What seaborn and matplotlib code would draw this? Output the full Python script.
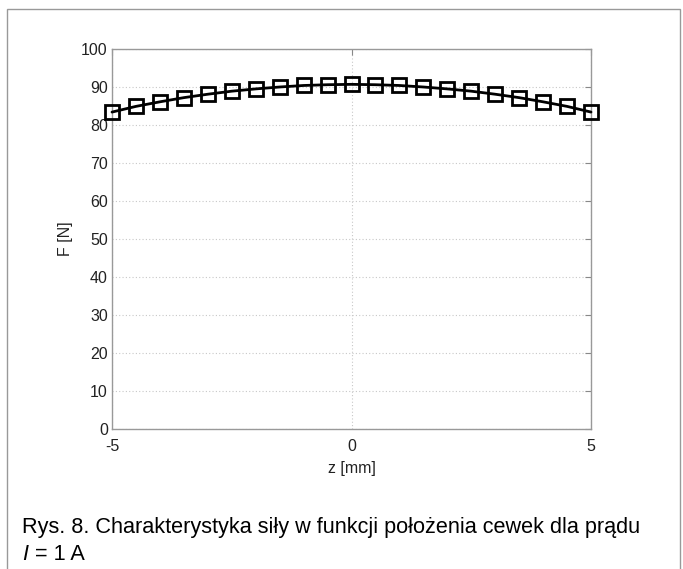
import matplotlib
matplotlib.use("Agg")
import matplotlib.pyplot as plt
import seaborn as sns
import pandas as pd
from matplotlib.patches import Rectangle

z_mm = [-5.0, -4.5, -4.0, -3.5, -3.0, -2.5, -2.0, -1.5, -1.0, -0.5, 0.0,
        0.5, 1.0, 1.5, 2.0, 2.5, 3.0, 3.5, 4.0, 4.5, 5.0]
force_N = [83.4, 84.9, 86.1, 87.2, 88.1, 88.9, 89.5, 90.0, 90.4, 90.6, 90.7,
           90.6, 90.4, 90.0, 89.5, 88.9, 88.1, 87.2, 86.1, 84.9, 83.4]
x_ticks = [-5, 0, 5]
y_ticks = [0, 10, 20, 30, 40, 50, 60, 70, 80, 90, 100]
caption_line1 = "Rys. 8. Charakterystyka siły w funkcji położenia cewek dla prądu"
caption_line2_var = "I"
caption_line2_rest = " = 1 A"

sns.set_style("white")
plt.rcParams['font.family'] = ['Liberation Sans', 'DejaVu Sans']

df = pd.DataFrame({"z": z_mm, "F": force_N})

fig = plt.figure(figsize=(6.83, 5.69), dpi=100)
ax = fig.add_axes([112/683, 1 - 429/569, (591-112)/683, (429-49)/569])

sns.lineplot(data=df, x="z", y="F", ax=ax, color="black", linewidth=2.0,
             marker="s", markersize=10, markerfacecolor="none",
             markeredgecolor="black", markeredgewidth=2.0, clip_on=False, zorder=5)

ax.set_xlim(-5, 5)
ax.set_ylim(0, 100)
ax.set_xticks(x_ticks)
ax.set_yticks(y_ticks)
ax.set_xticklabels([str(t) for t in x_ticks])
ax.set_yticklabels([str(t) for t in y_ticks])
ax.grid(True, linestyle=(0, (1, 2)), color="#c8c8c8", linewidth=0.8)
ax.tick_params(direction="in", length=4, width=0.8, color="#888888",
               labelsize=11.5, top=True, right=True, pad=3, labelcolor="#222222")
ax.tick_params(axis="x", pad=7.5)
for s in ax.spines.values():
    s.set_color("#999999")
    s.set_linewidth(1.0)
ax.set_xlabel("z [mm]", fontsize=11.5, color="#222222", labelpad=4.5)
ax.set_ylabel("F [N]", fontsize=11.5, color="#222222", labelpad=6)

fig.text(22/683, 1 - 527/569, caption_line1, fontsize=15.6, va="center", ha="left", color="black")
fig.text(22/683, 1 - 554/569, caption_line2_var, fontsize=15.6, va="center", ha="left",
         style="italic", color="black")
fig.text(29/683, 1 - 554/569, caption_line2_rest, fontsize=15.6, va="center", ha="left", color="black")

rect = Rectangle((7/683, -0.05), (680-7)/683, (1 - 9/569) + 0.05, transform=fig.transFigure,
                 fill=False, edgecolor="#999999", linewidth=1.0, clip_on=False)
fig.patches.append(rect)

fig.savefig("out.png", dpi=100)
